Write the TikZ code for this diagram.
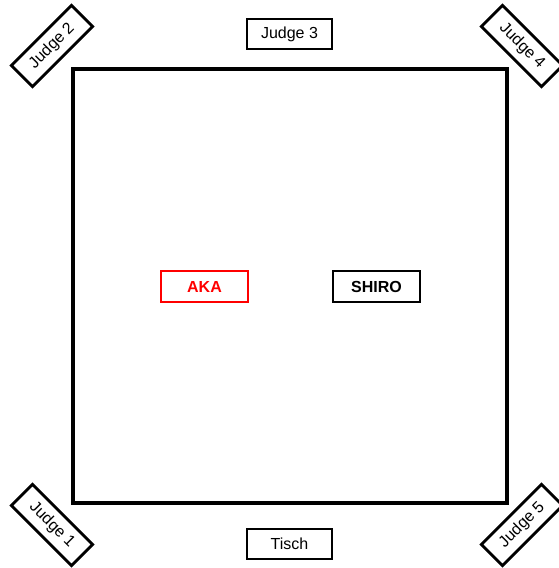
\documentclass[tikz,border=0pt]{standalone}
\usepackage{fontspec}
\setmainfont{Liberation Sans}
\begin{document}
\begin{tikzpicture}[x=1pt,y=-1pt,
  lbl/.style={draw=black,line width=2.8pt,fill=white,minimum width=85pt,minimum height=30pt,inner sep=0pt,font=\fontsize{16}{18}\selectfont},
  fighter/.style={lbl,minimum width=87pt,minimum height=31pt,font=\fontsize{16}{18}\selectfont\bfseries}]
\useasboundingbox (0,0) rectangle (558,568);
\node[draw=black,line width=3.3pt,minimum width=434pt,minimum height=434pt,inner sep=0pt] (ring) at (290,286) {};
\node[lbl] (j3) at (289.5,34) {Judge 3};
\node[lbl] (tisch) at (289.5,544) {Tisch};
\node[lbl,rotate=45] (j2) at (52,46) {Judge 2};
\node[lbl,rotate=-45] (j4) at (522,46) {Judge 4};
\node[lbl,rotate=-45] (j1) at (52,525) {Judge 1};
\node[lbl,rotate=45] (j5) at (522,525) {Judge 5};
\node[fighter,draw=red,text=red] (aka) at (204.5,286.5) {AKA};
\node[fighter] (shiro) at (376.5,286.5) {SHIRO};
\end{tikzpicture}
\end{document}
